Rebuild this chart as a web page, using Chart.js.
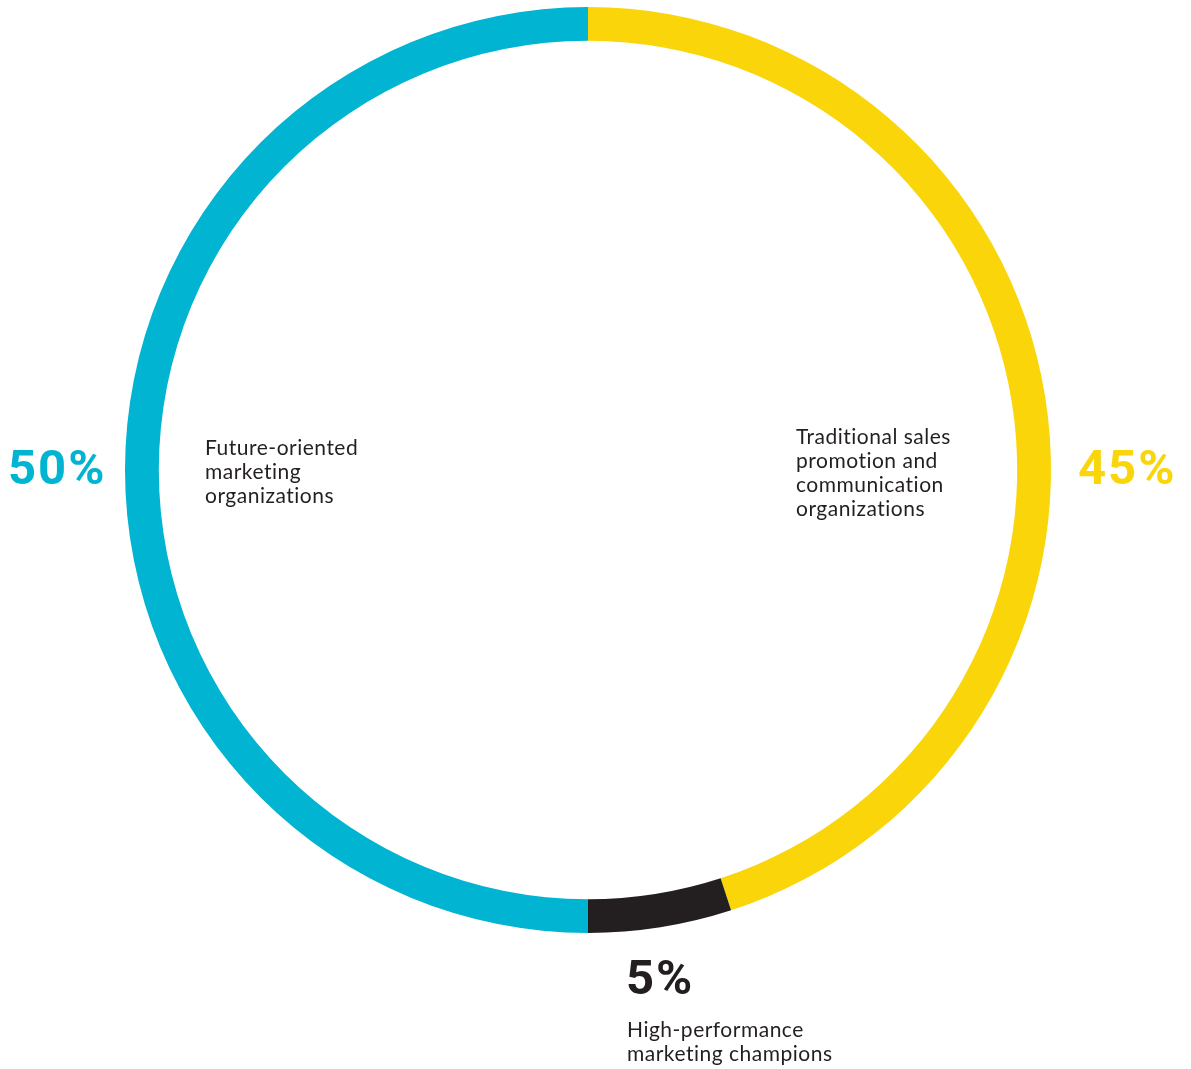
<!DOCTYPE html>
<html>
<head>
    <meta charset="UTF-8">
    <title>Marketing organizations</title>
    <script src="https://cdn.jsdelivr.net/npm/chart.js@4/dist/chart.umd.min.js"></script>
    <style>
        html, body { margin: 0; padding: 0; background: #ffffff; }
        #holder { width: 1191px; height: 1069px; }
    </style>
</head>
<body>
    <div id="holder">
        <canvas id="chart-area" width="1191" height="1069"></canvas>
    </div>
    <script>
        // data, clockwise from 12 o'clock
        var categorias = [
            'Traditional sales promotion and communication organizations',
            'High-performance marketing champions',
            'Future-oriented marketing organizations'
        ];
        var valores = [45, 5, 50];
        var cores = ['#F9D50A', '#231F20', '#00B4D2'];
        var percentuais = ['45%', '5%', '50%'];
        var textos = [
            ['Traditional sales', 'promotion and', 'communication', 'organizations'],
            ['High-performance', 'marketing champions'],
            ['Future-oriented', 'marketing', 'organizations']
        ];

        var corTexto = '#231F20';

        // labels around the ring
        var rotulos = {
            id: 'rotulos',
            afterDraw: function (chart) {
                var ctx = chart.ctx;
                var a = chart.chartArea;
                var cx = (a.left + a.right) / 2;
                var cy = (a.top + a.bottom) / 2;
                var r = Math.min(a.right - a.left, a.bottom - a.top) / 2;

                ctx.save();
                ctx.textBaseline = 'middle';
                ctx.textAlign = 'left';

                // big percentages
                ctx.font = 'bold 49px Roboto';
                ctx.letterSpacing = '2px';
                ctx.fillStyle = cores[2];
                ctx.fillText(percentuais[2], cx - r - 117, cy + 2);

                ctx.fillStyle = cores[0];
                ctx.fillText(percentuais[0], cx + r + 27, cy + 2);

                ctx.fillStyle = cores[1];
                ctx.fillText(percentuais[1], cx + 38, cy + 512);

                // descriptions
                ctx.font = '21px Lato';
                ctx.letterSpacing = '0.5px';
                ctx.fillStyle = corTexto;
                var lh = 24;
                textos[2].forEach(function (t, i) {
                    ctx.fillText(t, cx - 383, cy - 22 + i * lh);
                });
                textos[0].forEach(function (t, i) {
                    ctx.fillText(t, cx + 208, cy - 33 + i * lh);
                });
                textos[1].forEach(function (t, i) {
                    ctx.fillText(t, cx + 39, cy + 560 + i * lh);
                });
                ctx.restore();
            }
        };

        var config = {
            type: 'doughnut',
            data: {
                labels: categorias,
                datasets: [{
                    data: valores,
                    backgroundColor: cores,
                    borderWidth: 0
                }]
            },
            options: {
                responsive: false,
                animation: false,
                cutout: '92.7%',
                layout: {
                    padding: { top: 7, bottom: 136, left: 125, right: 140 }
                },
                plugins: {
                    legend: { display: false },
                    tooltip: { enabled: false }
                }
            },
            plugins: [rotulos]
        };

        window.onload = function () {
            var ctx = document.getElementById('chart-area').getContext('2d');
            grafico = new Chart(ctx, config);
        };
    </script>
</body>
</html>
